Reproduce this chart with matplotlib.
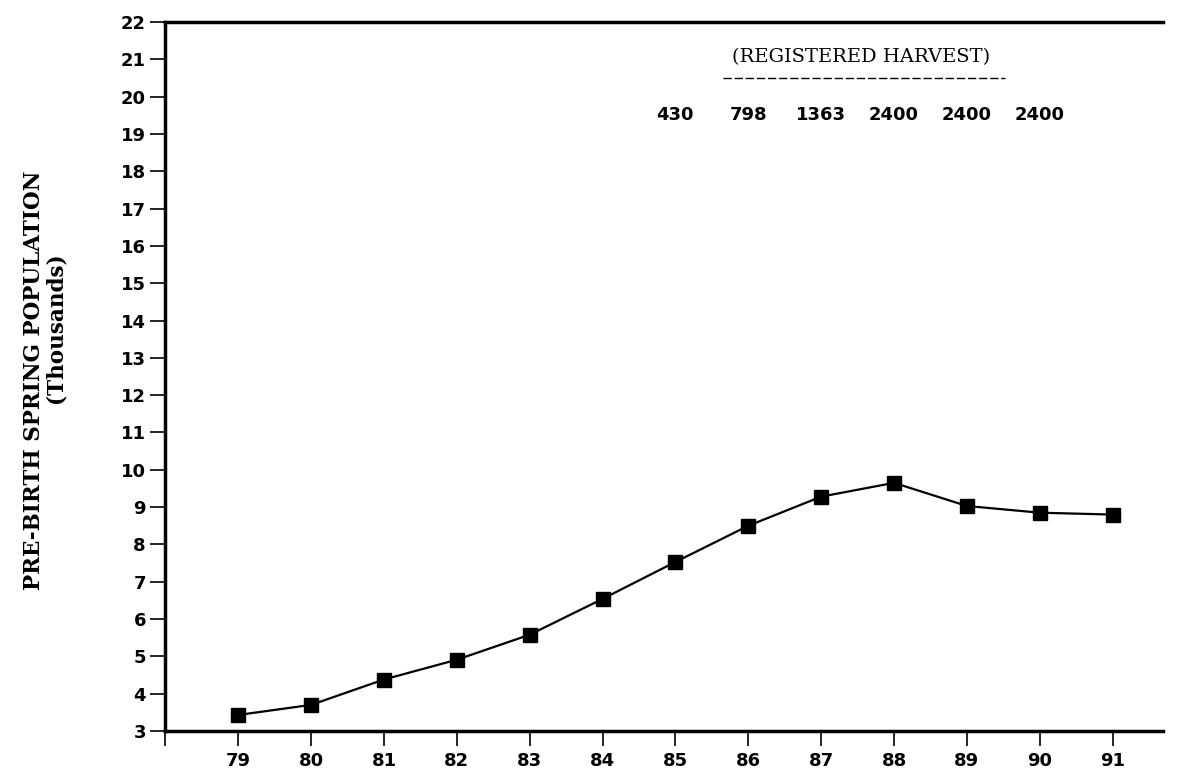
import matplotlib
matplotlib.use("Agg")
import matplotlib.pyplot as plt

# data
years = [79, 80, 81, 82, 83, 84, 85, 86, 87, 88, 89, 90, 91]
population = [3.43, 3.7, 4.38, 4.91, 5.58, 6.54, 7.53, 8.5, 9.28, 9.65, 9.03, 8.85, 8.8]

harvest_years = [85, 86, 87, 88, 89, 90]
harvest = ["430", "798", "1363", "2400", "2400", "2400"]

y_ticks = list(range(3, 23))
x_ticks = list(range(78, 92))
x_labels = [""] + [str(y) for y in years]

fig = plt.figure(figsize=(11.77, 7.77), dpi=100)
ax = fig.add_axes([0.1405, 0.0592, 0.8475, 0.9125])

ax.plot(years, population, color="black", lw=1.6, marker="s", ms=10.5,
        markerfacecolor="black", markeredgecolor="black")

ax.set_xlim(78, 91.69)
ax.set_ylim(3, 22)
ax.set_xticks(x_ticks)
ax.set_xticklabels(x_labels)
ax.set_yticks(y_ticks)
ax.set_yticklabels([str(v) for v in y_ticks])

for side in ["left", "bottom", "top"]:
    ax.spines[side].set_linewidth(2.5)
ax.spines["right"].set_visible(False)

ax.tick_params(axis="both", direction="out", length=11, width=1.2, colors="black",
               labelsize=13)
ax.tick_params(axis="x", pad=4)
ax.tick_params(axis="y", pad=3)
for lab in ax.get_xticklabels() + ax.get_yticklabels():
    lab.set_fontfamily("DejaVu Sans")
    lab.set_fontweight("bold")

# y label in two lines
fig.text(0.029, 0.51, "PRE-BIRTH SPRING POPULATION", rotation=90, ha="center", va="center",
         family="DejaVu Serif", fontsize=15.5, fontweight="bold")
fig.text(0.047, 0.578, "(Thousands)", rotation=90, ha="center", va="center",
         family="DejaVu Serif", fontsize=15.5, fontweight="bold")

# harvest annotation
ax.text(87.55, 21.05, "(REGISTERED HARVEST)", ha="center", va="center",
        family="DejaVu Serif", fontsize=14)
ax.plot([85.65, 89.52], [20.5, 20.5], color="black", lw=1.0, ls=(0, (6, 2)))
for hx, hv in zip(harvest_years, harvest):
    ax.text(hx, 19.52, hv, ha="center", va="center", family="DejaVu Sans",
            fontsize=13, fontweight="bold")

fig.savefig("out.png", dpi=100)
